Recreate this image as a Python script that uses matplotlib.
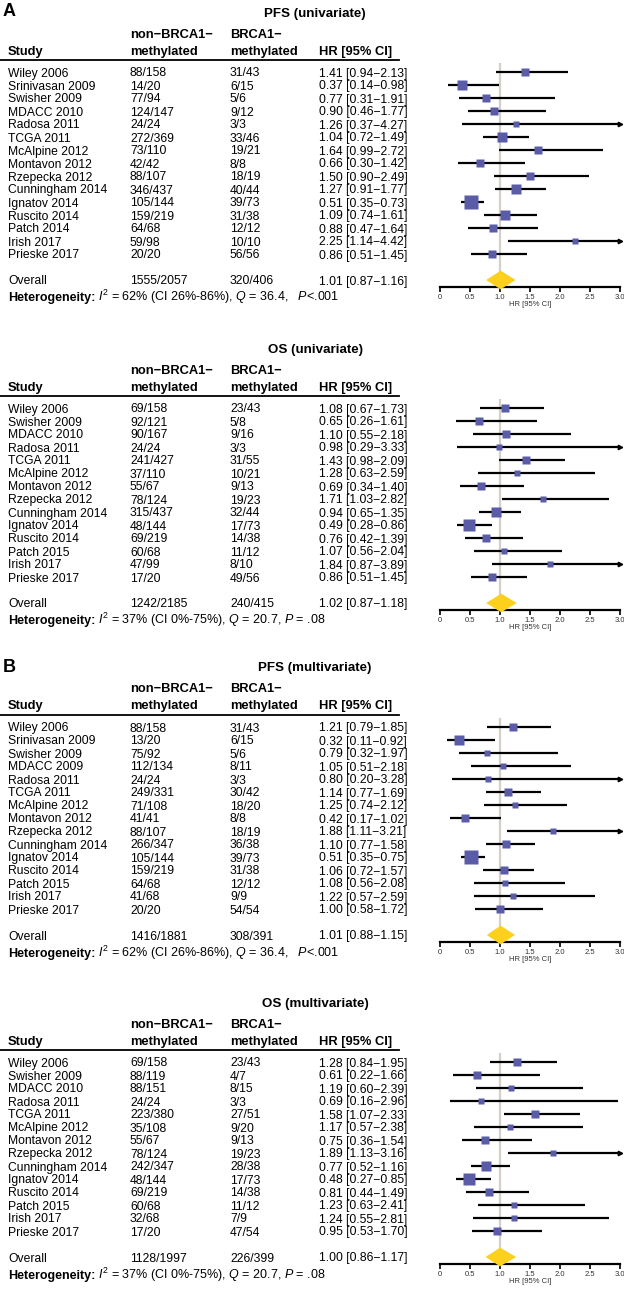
import matplotlib
matplotlib.use("Agg")
import matplotlib.pyplot as plt
import matplotlib.transforms as mtransforms
from matplotlib.lines import Line2D
from matplotlib.patches import Polygon
import numpy as np

plt.rcParams['font.family'] = ['Liberation Sans', 'DejaVu Sans']
plt.rcParams['mathtext.fontset'] = 'custom'
plt.rcParams['mathtext.rm'] = 'Liberation Sans'
plt.rcParams['mathtext.it'] = 'Liberation Sans:italic'
plt.rcParams['mathtext.bf'] = 'Liberation Sans:bold'

# ---------------- DATA ----------------
# Panel A: PFS (univariate)
pfs_uni_title = "PFS (univariate)"
pfs_uni_studies = ["Wiley 2006", "Srinivasan 2009", "Swisher 2009", "MDACC 2010", "Radosa 2011",
                   "TCGA 2011", "McAlpine 2012", "Montavon 2012", "Rzepecka 2012", "Cunningham 2014",
                   "Ignatov 2014", "Ruscito 2014", "Patch 2014", "Irish 2017", "Prieske 2017"]
pfs_uni_nonmeth = ["88/158", "14/20", "77/94", "124/147", "24/24", "272/369", "73/110", "42/42",
                   "88/107", "346/437", "105/144", "159/219", "64/68", "59/98", "20/20"]
pfs_uni_meth = ["31/43", "6/15", "5/6", "9/12", "3/3", "33/46", "19/21", "8/8", "18/19", "40/44",
                "39/73", "31/38", "12/12", "10/10", "56/56"]
pfs_uni_hr = [1.41, 0.37, 0.77, 0.90, 1.26, 1.04, 1.64, 0.66, 1.50, 1.27, 0.51, 1.09, 0.88, 2.25, 0.86]
pfs_uni_lo = [0.94, 0.14, 0.31, 0.46, 0.37, 0.72, 0.99, 0.30, 0.90, 0.91, 0.35, 0.74, 0.47, 1.14, 0.51]
pfs_uni_hi = [2.13, 0.98, 1.91, 1.77, 4.27, 1.49, 2.72, 1.42, 2.49, 1.77, 0.73, 1.61, 1.64, 4.42, 1.45]
pfs_uni_weight = [13, 15, 9, 11, 6, 15, 9, 11, 9, 15, 37, 15, 11, 6, 13]
pfs_uni_overall = ["1555/2057", "320/406", 1.01, 0.87, 1.16]
pfs_uni_het = ["62%", "26%-86%", "36.4", "<.001"]

# Panel A: OS (univariate)
os_uni_title = "OS (univariate)"
os_uni_studies = ["Wiley 2006", "Swisher 2009", "MDACC 2010", "Radosa 2011", "TCGA 2011",
                  "McAlpine 2012", "Montavon 2012", "Rzepecka 2012", "Cunningham 2014", "Ignatov 2014",
                  "Ruscito 2014", "Patch 2015", "Irish 2017", "Prieske 2017"]
os_uni_nonmeth = ["69/158", "92/121", "90/167", "24/24", "241/427", "37/110", "55/67", "78/124",
                  "315/437", "48/144", "69/219", "60/68", "47/99", "17/20"]
os_uni_meth = ["23/43", "5/8", "9/16", "3/3", "31/55", "10/21", "9/13", "19/23", "32/44", "17/73",
               "14/38", "11/12", "8/10", "49/56"]
os_uni_hr = [1.08, 0.65, 1.10, 0.98, 1.43, 1.28, 0.69, 1.71, 0.94, 0.49, 0.76, 1.07, 1.84, 0.86]
os_uni_lo = [0.67, 0.26, 0.55, 0.29, 0.98, 0.63, 0.34, 1.03, 0.65, 0.28, 0.42, 0.56, 0.87, 0.51]
os_uni_hi = [1.73, 1.61, 2.18, 3.33, 2.09, 2.59, 1.40, 2.82, 1.35, 0.86, 1.39, 2.04, 3.89, 1.45]
os_uni_weight = [13, 11, 9, 6, 11, 8, 11, 8, 17, 22, 13, 8, 6, 13]
os_uni_overall = ["1242/2185", "240/415", 1.02, 0.87, 1.18]
os_uni_het = ["37%", "0%-75%", "20.7", " = .08"]

# Panel B: PFS (multivariate)
pfs_multi_title = "PFS (multivariate)"
pfs_multi_studies = ["Wiley 2006", "Srinivasan 2009", "Swisher 2009", "MDACC 2009", "Radosa 2011",
                     "TCGA 2011", "McAlpine 2012", "Montavon 2012", "Rzepecka 2012", "Cunningham 2014",
                     "Ignatov 2014", "Ruscito 2014", "Patch 2015", "Irish 2017", "Prieske 2017"]
pfs_multi_nonmeth = ["88/158", "13/20", "75/92", "112/134", "24/24", "249/331", "71/108", "41/41",
                     "88/107", "266/347", "105/144", "159/219", "64/68", "41/68", "20/20"]
pfs_multi_meth = ["31/43", "6/15", "5/6", "8/11", "3/3", "30/42", "18/20", "8/8", "18/19", "36/38",
                  "39/73", "31/38", "12/12", "9/9", "54/54"]
pfs_multi_hr = [1.21, 0.32, 0.79, 1.05, 0.80, 1.14, 1.25, 0.42, 1.88, 1.10, 0.51, 1.06, 1.08, 1.22, 1.00]
pfs_multi_lo = [0.79, 0.11, 0.32, 0.51, 0.20, 0.77, 0.74, 0.17, 1.11, 0.77, 0.35, 0.72, 0.56, 0.57, 0.58]
pfs_multi_hi = [1.85, 0.92, 1.97, 2.18, 3.28, 1.69, 2.12, 1.02, 3.21, 1.58, 0.75, 1.57, 2.08, 2.59, 1.72]
pfs_multi_weight = [11, 15, 8, 8, 6, 11, 8, 13, 6, 13, 31, 13, 8, 8, 9]
pfs_multi_overall = ["1416/1881", "308/391", 1.01, 0.88, 1.15]
pfs_multi_het = ["62%", "26%-86%", "36.4", "<.001"]

# Panel B: OS (multivariate)
os_multi_title = "OS (multivariate)"
os_multi_studies = ["Wiley 2006", "Swisher 2009", "MDACC 2010", "Radosa 2011", "TCGA 2011",
                    "McAlpine 2012", "Montavon 2012", "Rzepecka 2012", "Cunningham 2014", "Ignatov 2014",
                    "Ruscito 2014", "Patch 2015", "Irish 2017", "Prieske 2017"]
os_multi_nonmeth = ["69/158", "88/119", "88/151", "24/24", "223/380", "35/108", "55/67", "78/124",
                    "242/347", "48/144", "69/219", "60/68", "32/68", "17/20"]
os_multi_meth = ["23/43", "4/7", "8/15", "3/3", "27/51", "9/20", "9/13", "19/23", "28/38", "17/73",
                 "14/38", "11/12", "7/9", "47/54"]
os_multi_hr = [1.28, 0.61, 1.19, 0.69, 1.58, 1.17, 0.75, 1.89, 0.77, 0.48, 0.81, 1.23, 1.24, 0.95]
os_multi_lo = [0.84, 0.22, 0.60, 0.16, 1.07, 0.57, 0.36, 1.13, 0.52, 0.27, 0.44, 0.63, 0.55, 0.53]
os_multi_hi = [1.95, 1.66, 2.39, 2.96, 2.33, 2.38, 1.54, 3.16, 1.16, 0.85, 1.49, 2.41, 2.81, 1.70]
os_multi_weight = [11, 9, 8, 6, 11, 8, 9, 8, 20, 25, 11, 8, 8, 11]
os_multi_overall = ["1128/1997", "226/399", 1.00, 0.86, 1.17]
os_multi_het = ["37%", "0%-75%", "20.7", " = .08"]

x_ticks = [0, 0.5, 1.0, 1.5, 2.0, 2.5, 3.0]
x_tick_labels = ["0", "0.5", "1.0", "1.5", "2.0", "2.5", "3.0"]

# ---------------- STYLE ----------------
W, H = 624, 1290
ROW = 13.0
BLUE = "#5b5ca8"
GOLD = "#fcd01c"
REFGRAY = "#d4cfc7"
FS_ROW = 8.7
FS_HEAD = 9.3
FS_HET = 9.0
X_STUDY, X_NON, X_METH, X_HR = 8, 130, 230, 319
X_AX0, X_AX1 = 440, 620

fig = plt.figure(figsize=(W / 100, H / 100), dpi=100)
renderer = fig.canvas.get_renderer()


def fx(px):
    return px / W


def ci_text(h, l, u):
    return f"{h:.2f} [{l:.2f}\u2212{u:.2f}]"


def panel(wy, title, studies, nonmeth, meth, hr, lo, hi, weight, overall, het, letter=None):
    n = len(studies)
    orow = n + 1
    axis_px = wy + ROW * orow + 7
    top_px = wy - 9
    ax = fig.add_axes([fx(X_AX0), 1 - axis_px / H, fx(X_AX1) - fx(X_AX0), (axis_px - top_px) / H])
    ax.set_xlim(0, 3)
    ax.set_ylim((axis_px - wy) / ROW, (top_px - wy) / ROW)
    tr = mtransforms.blended_transform_factory(fig.transFigure, ax.transData)

    # header
    ax.text(fx(315), -60 / ROW, title, transform=tr, ha="center", va="center_baseline",
            fontsize=FS_HEAD + 0.3, fontweight="bold")
    if letter:
        ax.text(fx(3), -62 / ROW, letter, transform=tr, ha="left", va="center_baseline",
                fontsize=13, fontweight="bold")
    ax.text(fx(X_NON), -39 / ROW, "non\u2212BRCA1\u2212", transform=tr, ha="left",
            va="center_baseline", fontsize=FS_HEAD, fontweight="bold")
    ax.text(fx(X_METH), -39 / ROW, "BRCA1\u2212", transform=tr, ha="left",
            va="center_baseline", fontsize=FS_HEAD, fontweight="bold")
    for xx, s in [(X_STUDY, "Study"), (X_NON, "methylated"), (X_METH, "methylated"), (X_HR, "HR [95% CI]")]:
        ax.text(fx(xx), -22 / ROW, s, transform=tr, ha="left", va="center_baseline",
                fontsize=FS_HEAD, fontweight="bold")
    fig.add_artist(Line2D([0, fx(399)], [-12 / ROW, -12 / ROW], transform=tr, color="black", lw=1.3))

    # rows
    for i in range(n):
        for xx, s in [(X_STUDY, studies[i]), (X_NON, nonmeth[i]), (X_METH, meth[i]),
                      (X_HR, ci_text(hr[i], lo[i], hi[i]))]:
            ax.text(fx(xx), i, s, transform=tr, ha="left", va="center_baseline", fontsize=FS_ROW)
    on, om, oh, ol, ou = overall
    for xx, s in [(X_STUDY, "Overall"), (X_NON, on), (X_METH, om), (X_HR, ci_text(oh, ol, ou))]:
        ax.text(fx(xx), orow, s, transform=tr, ha="left", va="center_baseline", fontsize=FS_ROW)

    # heterogeneity line: bold label followed by statistics
    i2, ci, q, p = het
    hy = orow + 21.5 / ROW
    t1 = ax.text(fx(X_STUDY), hy, "Heterogeneity:", transform=tr, ha="left", va="baseline",
                 fontsize=FS_HET, fontweight="bold")
    bb = t1.get_window_extent(renderer)
    x2 = bb.x1 / fig.bbox.width + fx(3)
    rest = (r"$I^2$ = " + i2 + " (CI " + ci + "), " + r"$Q$ = " + q + ", "
            + ("  " if p.startswith("<") else "") + r"$P$" + p)
    ax.text(x2, hy, rest, transform=tr, ha="left", va="baseline", fontsize=FS_HET)

    # forest
    ax.axvline(1.0, color=REFGRAY, lw=1.6, zorder=0)
    for i in range(n):
        ax.plot([lo[i], min(hi[i], 3.0)], [i, i], color="black", lw=1.6, solid_capstyle="butt", zorder=2)
        if hi[i] > 3.0:
            ax.plot(3.0, i, marker=">", ms=3.2, color="black", clip_on=False, zorder=2)
        ax.plot(hr[i], i, marker="s", ms=1.728 * np.sqrt(weight[i]), color=BLUE, mec="none", zorder=3)
    dh = 0.72
    pad = 0.1
    ax.add_patch(Polygon([(ol - pad, orow), (oh, orow - dh), (ou + pad, orow), (oh, orow + dh)],
                         closed=True, facecolor=GOLD, edgecolor="none", zorder=3, clip_on=False))

    for s in ["top", "left", "right"]:
        ax.spines[s].set_visible(False)
    ax.spines["bottom"].set_linewidth(1.6)
    ax.set_yticks([])
    ax.set_xticks(x_ticks)
    ax.set_xticklabels(x_tick_labels)
    ax.tick_params(axis="x", length=3.5, width=1.2, labelsize=5.5, pad=1.2, labelcolor="#333333")
    ax.set_xlabel("HR [95% CI]", fontsize=5.5, labelpad=0.5, color="#333333")
    ax.patch.set_alpha(0)
    return ax


panel(72, pfs_uni_title, pfs_uni_studies, pfs_uni_nonmeth, pfs_uni_meth, pfs_uni_hr, pfs_uni_lo,
      pfs_uni_hi, pfs_uni_weight, pfs_uni_overall, pfs_uni_het, letter="A")
panel(408, os_uni_title, os_uni_studies, os_uni_nonmeth, os_uni_meth, os_uni_hr, os_uni_lo,
      os_uni_hi, os_uni_weight, os_uni_overall, os_uni_het)
panel(727, pfs_multi_title, pfs_multi_studies, pfs_multi_nonmeth, pfs_multi_meth, pfs_multi_hr,
      pfs_multi_lo, pfs_multi_hi, pfs_multi_weight, pfs_multi_overall, pfs_multi_het, letter="B")
panel(1062, os_multi_title, os_multi_studies, os_multi_nonmeth, os_multi_meth, os_multi_hr,
      os_multi_lo, os_multi_hi, os_multi_weight, os_multi_overall, os_multi_het)

fig.savefig("out.png", dpi=100)
